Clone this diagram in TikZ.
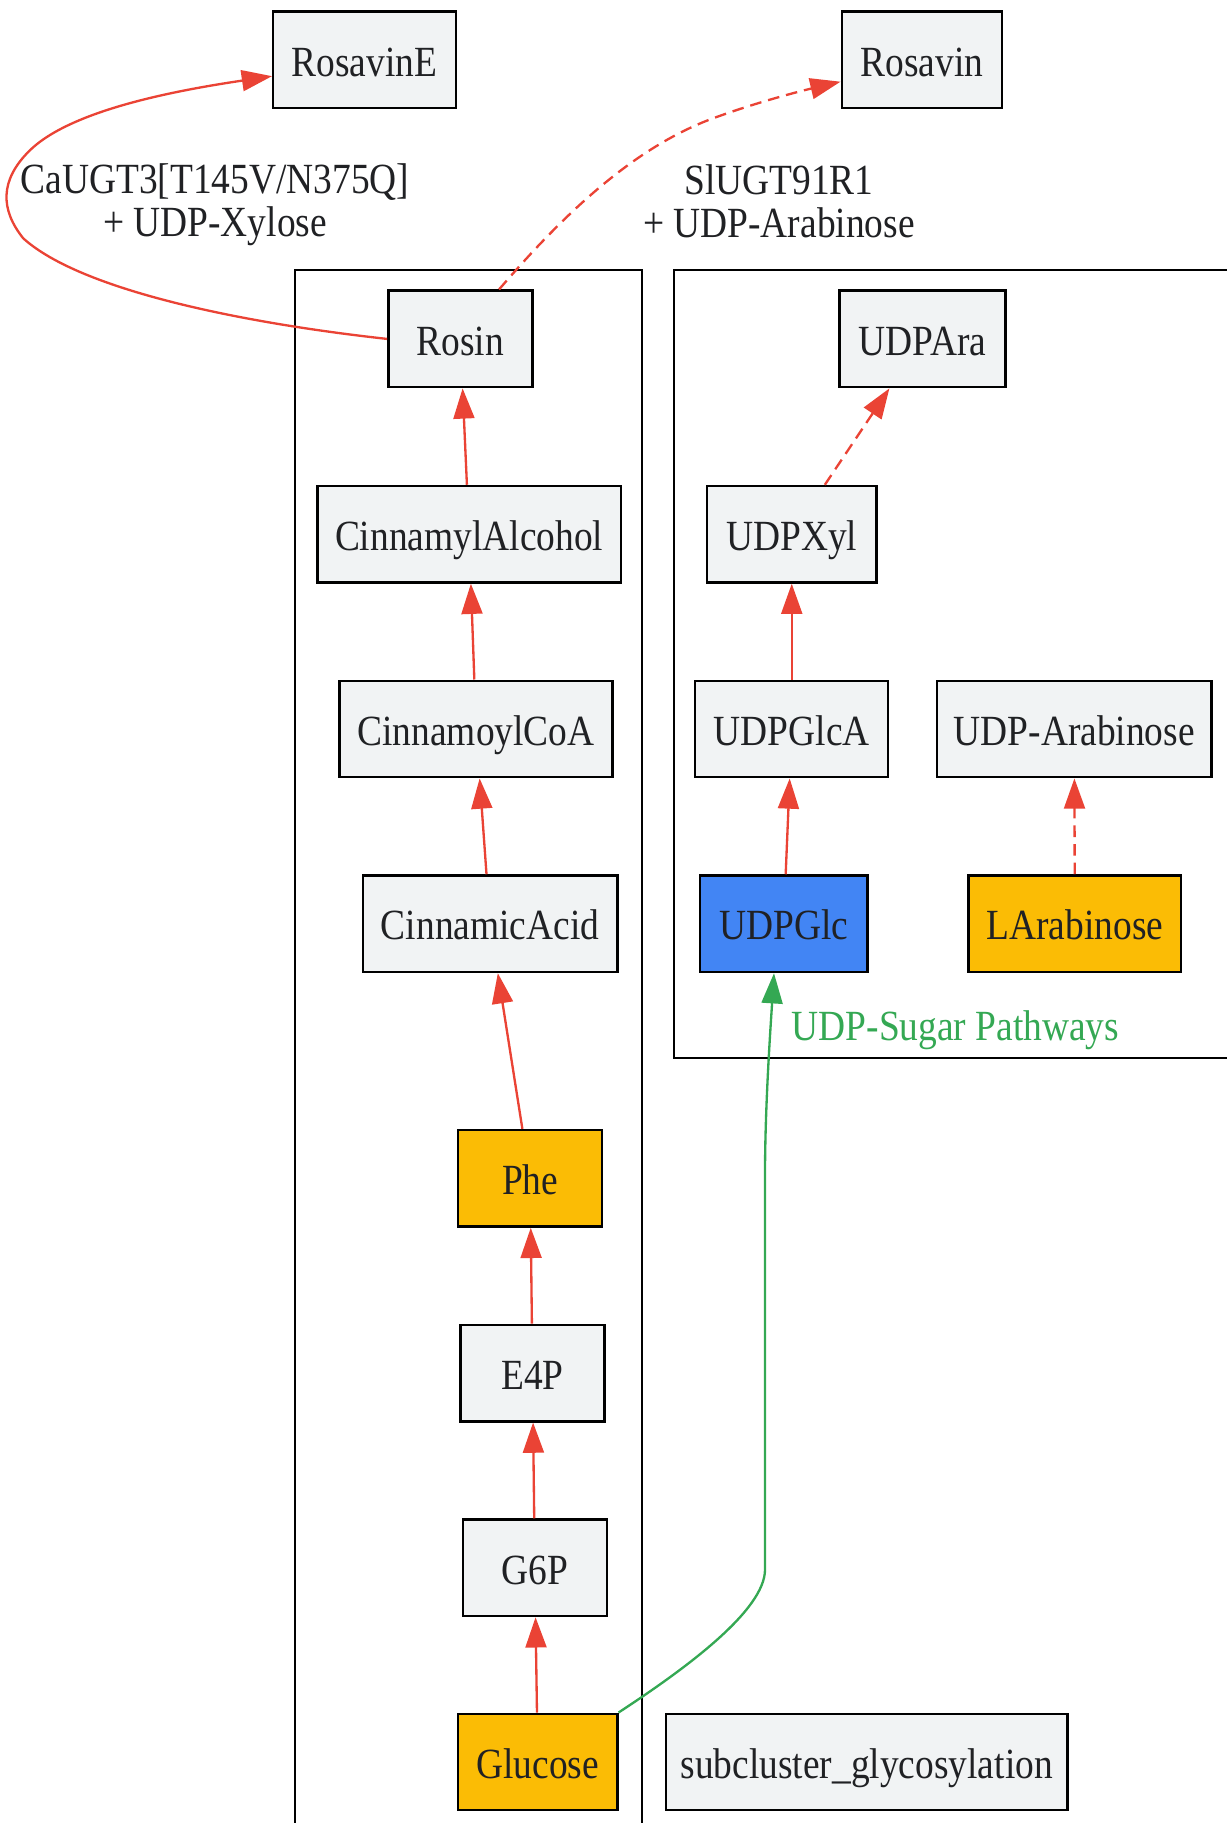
\documentclass[tikz,border=0pt]{standalone}
\usepackage{fontspec}
\setmainfont{Liberation Serif}[FakeStretch=0.87]
\usetikzlibrary{arrows.meta}
\definecolor{gred}{HTML}{EA4335}
\definecolor{ggreen}{HTML}{34A853}
\definecolor{gblue}{HTML}{4285F4}
\definecolor{gyellow}{HTML}{FBBC05}
\definecolor{boxgray}{HTML}{F1F3F4}
\definecolor{ink}{HTML}{202124}

\begin{document}
\begin{tikzpicture}[x=0.5pt,y=-0.5pt,
    txt/.style={text=ink, font=\fontsize{18.5}{18.5}\selectfont},
    box/.style={txt, draw=black, line width=1.05pt, fill=boxgray, minimum height=41.5pt,
        inner sep=0pt, text height=18pt, text depth=4pt},
    flow/.style={draw=gred, line width=1pt, -{Triangle[length=13pt,width=9pt]}},
    guess/.style={flow, dash pattern=on 5pt off 3pt}]
    \useasboundingbox (0,0) rectangle (1055,1568);
    % clusters
    \draw[line width=1pt] (254,1600) -- (254,232) -- (552,232) -- (552,1600);
    \draw[line width=1pt] (1080,232) -- (580,232) -- (580,910) -- (1080,910);
    % products
    \node[box, minimum width=78.5pt] (rosavinE) at (313.5,51.5) {RosavinE};
    \node[box, minimum width=69pt] (rosavin) at (793,51.5) {Rosavin};
    % phenylpropanoid route
    \node[box, minimum width=62pt] (rosin) at (396,291.5) {Rosin};
    \node[box, minimum width=130.5pt] (calc) at (403.5,459.5) {CinnamylAlcohol};
    \node[box, minimum width=117.5pt] (ccoa) at (409.5,627) {CinnamoylCoA};
    \node[box, minimum width=109.5pt] (cacid) at (421.5,794.5) {CinnamicAcid};
    \node[box, minimum width=62pt, fill=gyellow] (phe) at (456,1013.5) {Phe};
    \node[box, minimum width=62pt] (e4p) at (458,1181) {E4P};
    \node[box, minimum width=62pt] (g6p) at (460,1348.5) {G6P};
    \node[box, minimum width=68.5pt, fill=gyellow] (glc) at (462.5,1515.5) {Glucose};
    \node[box, minimum width=172.5pt] (subgly) at (745.5,1515.5) {subcluster\_glycosylation};
    % sugar route
    \node[box, minimum width=71.5pt] (udpara) at (793.5,291.5) {UDPAra};
    \node[box, minimum width=73pt] (udpxyl) at (681,459.5) {UDPXyl};
    \node[box, minimum width=83pt] (udpglca) at (681,627) {UDPGlcA};
    \node[box, minimum width=118pt] (udparab) at (924,627) {UDP-Arabinose};
    \node[box, minimum width=72pt, fill=gblue] (udpglc) at (674,794.5) {UDPGlc};
    \node[box, minimum width=91.5pt, fill=gyellow] (lara) at (924.5,794.5) {LArabinose};

    \draw[flow] (calc) -- (rosin);
    \draw[flow] (ccoa) -- (calc);
    \draw[flow] (cacid) -- (ccoa);
    \draw[flow] (phe) -- (cacid);
    \draw[flow] (e4p) -- (phe);
    \draw[flow] (g6p) -- (e4p);
    \draw[flow] (glc) -- (g6p);
    \draw[guess] (udpxyl) -- (udpara);
    \draw[flow] (udpglca) -- (udpxyl);
    \draw[flow] (udpglc) -- (udpglca);
    \draw[guess] (lara) -- (udparab);

    \draw[flow] (rosin.west) .. controls (210,278) and (70,250) .. (20,205)
        .. controls (0,180) and (0,155) .. (25,130)
        .. controls (60,95) and (150,78) .. (rosavinE.190);
    \node[txt, align=center] (lblxyl) at (185,176) {CaUGT3[T145V/N375Q]\\+ UDP-Xylose};
    \draw[guess] (rosin.52) .. controls (480,190) and (540,130) .. (610,103)
        .. controls (650,88) and (690,78) .. (rosavin.195);
    \node[txt, align=center] (lblara) at (670,173) {SlUGT91R1\\+ UDP-Arabinose};

    \draw[ggreen, line width=1pt, -{Triangle[length=13pt,width=9pt]}]
        (glc.north east) .. controls (590,1435) and (658,1385) .. (658,1350)
        -- (658,1010) .. controls (658,950) and (663,880) .. (udpglc.259);
    \node[txt, text=ggreen, anchor=west] (lblsugar) at (674,886) {UDP-Sugar Pathways};
\end{tikzpicture}
\end{document}
